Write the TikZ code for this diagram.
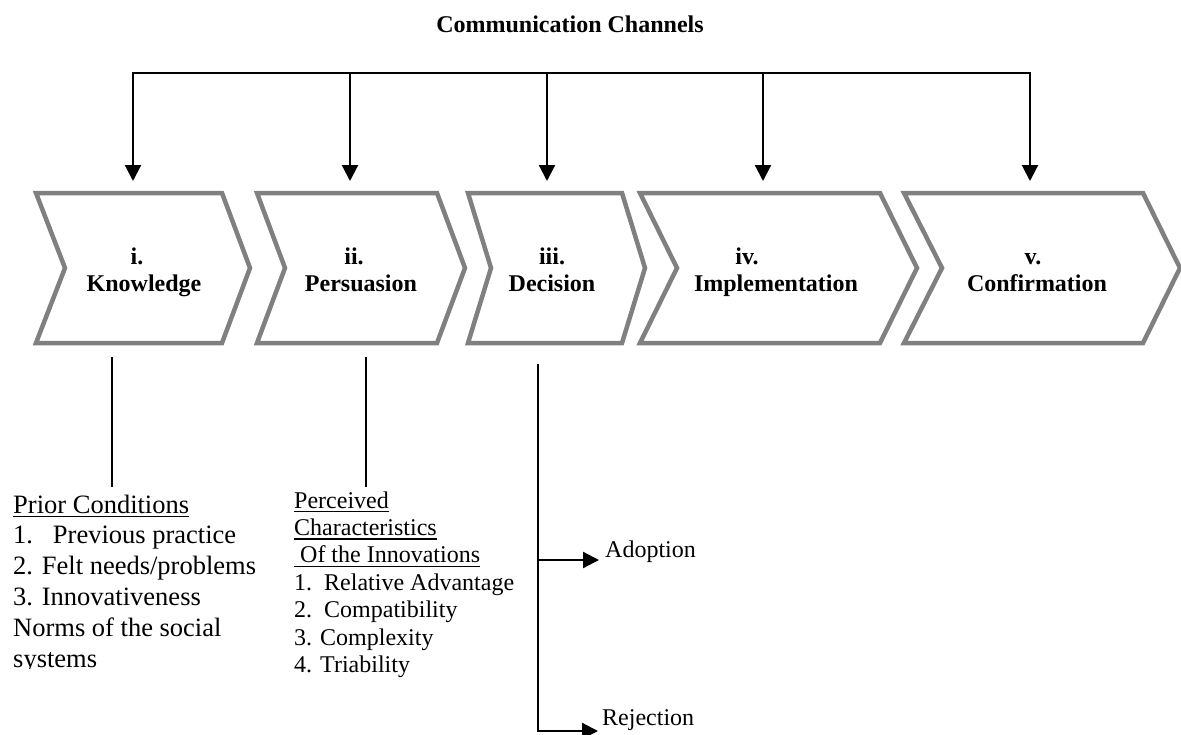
\documentclass[tikz,border=0pt]{standalone}
\usepackage{fontspec}
\setmainfont{Liberation Serif}
\usetikzlibrary{arrows.meta,positioning}
\definecolor{stagegray}{RGB}{128,128,128}
\newcommand{\ulined}[1]{\vtop{\hbox{#1}\kern2.5pt\hrule height 1.7pt}}

\tikzset{
  stagebox/.style={draw=stagegray, line width=4.5pt, line join=miter},
  stagelabel/.style={font=\bfseries\fontsize{24}{27}\selectfont, align=center, inner sep=0pt},
  feed/.style={line width=2.2pt, -{Triangle[length=16pt,width=16pt]}},
  plainline/.style={line width=2.2pt},
  listbig/.style={font=\fontsize{26.5}{30.8}\selectfont, align=left, inner sep=0pt},
  listsmall/.style={font=\fontsize{24}{27.4}\selectfont, align=left, inner sep=0pt}
}

\begin{document}
\begin{tikzpicture}[x=1pt,y=-1pt]
    \useasboundingbox (0,0) rectangle (1181,734);
    % Title
    \node[stagelabel, anchor=base] (chan) at (570,32) {Communication Channels};
    % Stages
    \foreach \a/\b/\c/\d in {36/65/222/250, 257/285/437/465, 468/491/622/645, 640/677/880/917, 904/942/1143/1180}
        \draw[stagebox] (\a,193) -- (\c,193) -- (\d,268) -- (\c,343) -- (\a,343) -- (\b,268) -- cycle;
    \node[stagelabel, anchor=base] (know) at (144,291) {i.\hspace*{14pt}\\Knowledge};
    \node[stagelabel, anchor=base] (pers) at (361,291) {ii.\hspace*{14pt}\\Persuasion};
    \node[stagelabel, anchor=base] (deci) at (552,291) {iii.\\Decision};
    \node[stagelabel, anchor=base] (impl) at (776,291) {iv.\hspace*{58pt}\\Implementation};
    \node[stagelabel, anchor=base] (conf) at (1037,291) {v.\hspace*{8pt}\\Confirmation};
    \coordinate (know-top) at (133,193);
    \coordinate (pers-top) at (350,193);
    \coordinate (deci-top) at (547,193);
    \coordinate (impl-top) at (763,193);
    \coordinate (conf-top) at (1030,193);
    % Channels to stages
    \coordinate (bus-west) at (133,73);
    \coordinate (bus-east) at (1030,73);
    \draw[plainline, line cap=rect] (bus-west) -- (bus-east);
    \foreach \s in {know,pers,deci,impl,conf}
        \draw[feed, shorten >=12pt] (\s-top |- bus-west) -- (\s-top);
    % Prior conditions
    \begin{scope}
        \clip (0,340) rectangle (280,668);
        \node[listbig, anchor=base west] (prior) at (13,667) {\ulined{Prior Conditions}\\
            1.\ \ \ Previous practice\\
            2. Felt needs/problems\\
            3. Innovativeness\\
            Norms of the social\\
            systems};
    \end{scope}
    \coordinate (know-foot) at (112,357);
    \draw[plainline, shorten >=7pt] (know-foot) -- (know-foot |- prior.north);
    % Perceived characteristics
    \node[listsmall, anchor=base west] (percv) at (294,672.4) {\ulined{Perceived}\\
        \ulined{Characteristics}\\
        \ulined{\ Of the Innovations}\\
        1.\ \ Relative Advantage\\
        2.\ \ Compatibility\\
        3. Complexity\\
        4. Triability};
    \coordinate (pers-foot) at (366,357);
    \draw[plainline, shorten >=4pt] (pers-foot) -- (pers-foot |- percv.north);
    % Decision outcomes
    \node[listsmall, anchor=base west] (adopt) at (605,557) {Adoption};
    \node[listsmall, anchor=base west] (reject) at (602,725) {Rejection};
    \coordinate (deci-foot) at (538,364);
    \coordinate (adopt-fork) at (538,560);
    \coordinate (reject-fork) at (538,731);
    \draw[feed, shorten >=4pt] (deci-foot) -- (reject-fork) -- (reject-fork -| reject.west);
    \draw[feed, shorten >=6pt] (adopt-fork) -- (adopt-fork -| adopt.west);
\end{tikzpicture}
\end{document}
